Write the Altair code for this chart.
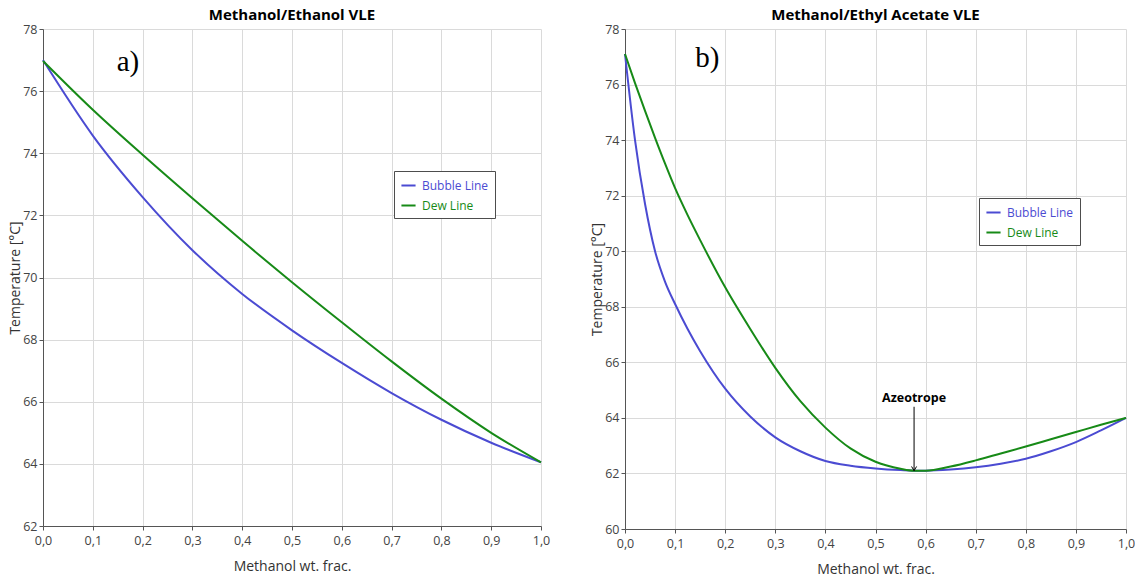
import altair as alt
import pandas as pd

# ---------------- data ----------------
series_names = ["Bubble Line", "Dew Line"]
series_colors = ["#4b4bd2", "#178a17"]

# a) Methanol / Ethanol
x_a = [0.0, 0.1, 0.2, 0.3, 0.4, 0.5, 0.6, 0.7, 0.8, 0.9, 1.0]
bubble_a = [77.0, 74.57, 72.59, 70.88, 69.47, 68.30, 67.25, 66.28, 65.42, 64.68, 64.05]
dew_a = [76.97, 75.40, 73.95, 72.55, 71.18, 69.85, 68.56, 67.30, 66.10, 65.00, 64.05]

# b) Methanol / Ethyl Acetate
x_b = [0.0, 0.02, 0.04, 0.06, 0.08, 0.1, 0.125, 0.15, 0.2, 0.25, 0.3, 0.35, 0.4,
       0.45, 0.5, 0.55, 0.577, 0.6, 0.65, 0.7, 0.75, 0.8, 0.85, 0.9, 0.95, 1.0]
bubble_b = [77.1, 74.0, 71.7, 70.0, 68.9, 68.1, 67.2, 66.4, 65.05, 64.05, 63.3, 62.8, 62.45,
            62.28, 62.18, 62.12, 62.1, 62.1, 62.14, 62.22, 62.35, 62.53, 62.8, 63.13, 63.55, 64.0]
dew_b = [77.1, 76.05, 75.05, 74.08, 73.15, 72.27, 71.3, 70.4, 68.7, 67.2, 65.8, 64.6, 63.65,
         62.9, 62.42, 62.17, 62.1, 62.1, 62.25, 62.47, 62.72, 62.97, 63.23, 63.49, 63.75, 64.0]

x_ticks = [0.0, 0.1, 0.2, 0.3, 0.4, 0.5, 0.6, 0.7, 0.8, 0.9, 1.0]
y_ticks_a = [62, 64, 66, 68, 70, 72, 74, 76, 78]
y_ticks_b = [60, 62, 64, 66, 68, 70, 72, 74, 76, 78]

titles = ["Methanol/Ethanol VLE", "Methanol/Ethyl Acetate VLE"]
panel_letters = ["a)", "b)"]
letter_pos_a = (0.148, 76.95)
letter_pos_b = (0.14, 76.95)

azeo_x = 0.577
azeo_T = 62.1
azeo_label = "Azeotrope"

FONT = "Open Sans"


def long_df(xs, bub, dew):
    rows = []
    for name, vals in zip(series_names, [bub, dew]):
        for xv, tv in zip(xs, vals):
            rows.append({"x": xv, "T": tv, "series": name})
    return pd.DataFrame(rows)


def panel(df, title, ydom, yticks, letter, letter_pos, lx, ly, w, h, extra=None):
    xenc = alt.X(
        "x:Q",
        scale=alt.Scale(domain=[0, 1], nice=False),
        axis=alt.Axis(
            values=x_ticks,
            labelExpr="replace(format(datum.value, '.1f'), '.', ',')",
            labelFlush=False,
            title="Methanol wt. frac.",
        ),
    )
    yenc = alt.Y(
        "T:Q",
        scale=alt.Scale(domain=ydom, nice=False, zero=False),
        axis=alt.Axis(values=yticks, title="Temperature [°C]"),
    )
    lines = alt.Chart(df).mark_line(strokeWidth=2, interpolate="monotone").encode(
        x=xenc,
        y=yenc,
        color=alt.Color(
            "series:N",
            scale=alt.Scale(domain=series_names, range=series_colors),
            legend=alt.Legend(
                title=None,
                orient="none",
                legendX=lx,
                legendY=ly,
                direction="vertical",
                symbolType="stroke",
                symbolStrokeWidth=2,
                symbolSize=200,
                labelFont=FONT,
                labelFontSize=12,
                labelColor=alt.ExprRef(
                    f"datum.value == '{series_names[0]}' ? '{series_colors[0]}' : '{series_colors[1]}'"
                ),
                strokeColor="#4d4d4d",
                fillColor="white",
                padding=6,
                rowPadding=5,
                labelOffset=5,
                cornerRadius=0,
            ),
        ),
    )
    letter_df = pd.DataFrame([{"x": letter_pos[0], "T": letter_pos[1], "label": letter}])
    letter_mark = alt.Chart(letter_df).mark_text(
        font="Liberation Serif", fontSize=29, align="left", baseline="middle", color="black"
    ).encode(x="x:Q", y="T:Q", text="label:N")
    layers = [lines, letter_mark]
    if extra:
        layers += extra
    return alt.layer(*layers).properties(
        width=w, height=h,
        title=alt.TitleParams(title, font=FONT, fontSize=15, fontWeight="bold", color="black",
                              offset=0),
    )


df_a = long_df(x_a, bubble_a, dew_a)
df_b = long_df(x_b, bubble_b, dew_b)

azeo_df = pd.DataFrame([{"x": azeo_x, "T": azeo_T, "T_top": azeo_T + 2.3,
                         "T_text": azeo_T + 2.62, "label": azeo_label}])
azeo_rule = alt.Chart(azeo_df).mark_rule(color="black", strokeWidth=1).encode(
    x="x:Q", y="T_top:Q", y2="T:Q")
azeo_head = alt.Chart(azeo_df).mark_point(
    shape="M-0.6,-1L0,0L0.6,-1", filled=False, color="black", size=70, strokeWidth=1, opacity=1
).encode(x="x:Q", y="T:Q")
azeo_text = alt.Chart(azeo_df).mark_text(
    font=FONT, fontSize=12.5, fontWeight="bold", color="black", align="center", baseline="middle"
).encode(x="x:Q", y="T_text:Q", text="label:N")

left = panel(df_a, titles[0], [62, 78], y_ticks_a, panel_letters[0], letter_pos_a, 351, 142, 498, 497)
right = panel(df_b, titles[1], [60, 78], y_ticks_b, panel_letters[1], letter_pos_b, 354, 169, 501, 500,
              extra=[azeo_rule, azeo_head, azeo_text])

chart = alt.hconcat(left, right, spacing=40).resolve_scale(color="independent").properties(
    padding={"left": 8, "top": 8, "right": 0, "bottom": 0}
).configure_view(stroke=None).configure_axis(
    gridColor="#dadada",
    gridWidth=1,
    domainColor="#555555",
    tickColor="#555555",
    tickSize=4,
    labelColor="#444444",
    labelFont=FONT,
    labelFontSize=12.5,
    labelPadding=2,
    titleFont=FONT,
    titleFontSize=14,
    titleFontWeight="normal",
    titleColor="#333333",
).configure_axisX(labelPadding=4, titlePadding=13).configure_axisY(titlePadding=0)

chart.save("out.html", embed_options={"renderer": "svg", "actions": False})
